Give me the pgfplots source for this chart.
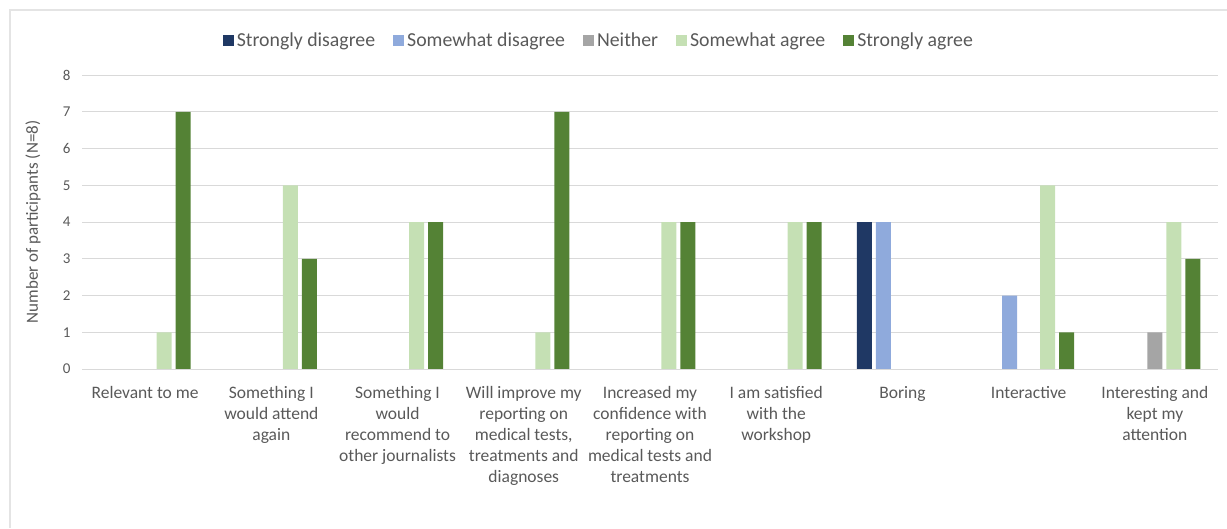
\documentclass[border=0pt]{standalone}
\usepackage{pgfplots}
\pgfplotsset{compat=1.18}
\usepackage{fontspec}
\setmainfont{Carlito}
\definecolor{csd}{HTML}{1F3864}
\definecolor{cswd}{HTML}{8FAADC}
\definecolor{cnei}{HTML}{A5A5A5}
\definecolor{csa}{HTML}{C5E0B4}
\definecolor{csta}{HTML}{548235}
\definecolor{txt}{HTML}{595959}
\definecolor{grd}{HTML}{D9D9D9}
\begin{document}
\begin{tikzpicture}[x=1pt,y=1pt]
\useasboundingbox (0,0) rectangle (1227,528);
\draw[color=grd!70, line width=1.2pt] (10,0) -- (10,518) -- (1227,518);
\begin{axis}[
  at={(82pt,159pt)}, anchor=south west,
  scale only axis, width=1136pt, height=294pt,
  ybar=4pt, bar width=15pt,
  xmin=-0.5, xmax=8.5, ymin=0, ymax=8,
  xtick={0,...,8},
  xticklabels={
    Relevant to me,
    {Something I\\would attend\\again},
    {Something I\\would\\recommend to\\other journalists},
    {Will improve my\\reporting on\\medical tests,\\treatments and\\diagnoses},
    {Increased my\\confidence with\\reporting on\\medical tests and\\treatments},
    {I am satisfied\\with the\\workshop},
    Boring,
    Interactive,
    {Interesting and\\kept my\\attention}},
  xticklabel style={align=center, font=\fontsize{17.5}{21}\selectfont, text=txt, anchor=north, yshift=-14pt},
  ytick={0,...,8},
  yticklabel style={font=\fontsize{15}{16}\selectfont, text=txt, xshift=-8pt},
  /pgf/number format/assume math mode=true,
  ymajorgrids, grid style={grd, line width=0.9pt},
  axis line style={draw=none},
  axis x line*=bottom, axis y line*=left,
  major tick length=0pt,
  ylabel={Number of participants (N=8)},
  every axis y label/.style={at={(axis description cs:-0.0431,0.5)}, rotate=90, anchor=center, font=\fontsize{17}{18}\selectfont, text=txt},
  legend columns=-1,
  legend style={at={(0.455,1.119)}, anchor=center, draw=none, fill=none,
    font=\fontsize{19.8}{21}\selectfont, text=txt,
    /tikz/every odd column/.append style={column sep=1pt},
    /tikz/every even column/.append style={column sep=16pt}},
  legend cell align=left,
  legend image code/.code={\fill[#1] (0pt,-5.5pt) rectangle (11pt,5.5pt);},
  clip=false,
]
\addplot[fill=csd, draw=none] coordinates {(0,0) (1,0) (2,0) (3,0) (4,0) (5,0) (6,4) (7,0) (8,0)};
\addplot[fill=cswd, draw=none] coordinates {(0,0) (1,0) (2,0) (3,0) (4,0) (5,0) (6,4) (7,2) (8,0)};
\addplot[fill=cnei, draw=none] coordinates {(0,0) (1,0) (2,0) (3,0) (4,0) (5,0) (6,0) (7,0) (8,1)};
\addplot[fill=csa, draw=none] coordinates {(0,1) (1,5) (2,4) (3,1) (4,4) (5,4) (6,0) (7,5) (8,4)};
\addplot[fill=csta, draw=none] coordinates {(0,7) (1,3) (2,4) (3,7) (4,4) (5,4) (6,0) (7,1) (8,3)};
\legend{Strongly disagree, Somewhat disagree, Neither, Somewhat agree, Strongly agree}
\draw[grd, line width=0.9pt] (axis cs:-0.5,0) -- (axis cs:8.5,0);
\end{axis}
\end{tikzpicture}
\end{document}
